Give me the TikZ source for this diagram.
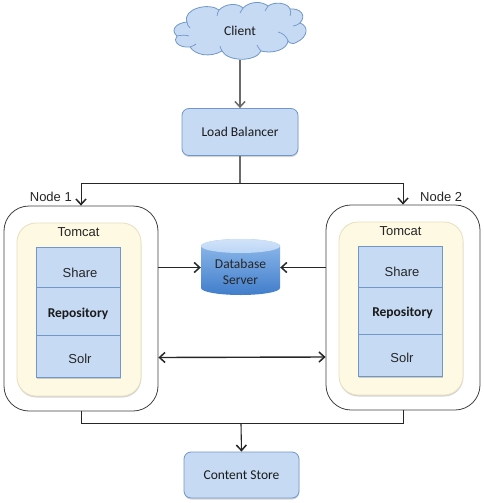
\documentclass[tikz,border=0pt]{standalone}
\usepackage{fontspec}
\setmainfont{Carlito}
\newfontfamily\arialish{Liberation Sans}
\usetikzlibrary{arrows.meta,shadows,calc}
\definecolor{boxblue}{HTML}{C6DAF3}
\definecolor{edgeblue}{HTML}{6F97C8}
\definecolor{creamfill}{HTML}{FEF9E3}
\definecolor{creamedge}{HTML}{E8DFC0}
\definecolor{inktext}{HTML}{1A1A1A}
\definecolor{greyline}{HTML}{6A6A6A}
\definecolor{dbtop}{HTML}{BCD6F6}
\definecolor{dbupper}{HTML}{92BCEC}
\definecolor{dblower}{HTML}{417DCB}
\tikzset{
  softshadow/.style={drop shadow={shadow xshift=0.3pt,shadow yshift=-1.5pt,opacity=0.28,fill=black!60}},
  roundbox/.style={draw=edgeblue,line width=0.8pt,fill=boxblue,rounded corners=7pt,softshadow,inner sep=0pt,text=inktext,font=\fontsize{13.5}{15}\selectfont},
  hostbox/.style={draw=black!75,line width=0.8pt,fill=white,rounded corners=25pt,inner sep=0pt},
  tomcatbox/.style={draw=creamedge,line width=0.8pt,fill=creamfill,rounded corners=19pt,inner sep=0pt,softshadow},
  tierbox/.style={draw=edgeblue,line width=0.8pt,fill=boxblue,inner sep=0pt,text=inktext,font=\fontsize{13.5}{15}\selectfont},
  tiersans/.style={tierbox,text=black!85,font=\arialish\fontsize{13}{15}\selectfont},
  sanslabel/.style={inner sep=0pt,text=black!85,font=\arialish\fontsize{13}{15}\selectfont},
  flow/.style={draw=black!85,line width=1.1pt,-{Straight Barb[length=5.5pt,width=10pt,line width=1.5pt]}},
  twoway/.style={draw=black!85,line width=1.4pt,{Straight Barb[length=5.5pt,width=10pt,line width=1.5pt]}-{Straight Barb[length=5.5pt,width=10pt,line width=1.5pt]}},
  plainline/.style={draw=black!85,line width=1pt},
}
\begin{document}
\begin{tikzpicture}[x=1pt,y=-1pt]
\useasboundingbox (0,0) rectangle (484,503);
% cloud
\draw[draw=edgeblue,line width=0.8pt,fill=boxblue]
 (177,36) .. controls (170,30) and (176,23) .. (187,22)
 .. controls (182,9) and (209,2) .. (219,10)
 .. controls (226,3) and (238,3) .. (243,8)
 .. controls (250,1) and (262,1) .. (268,6)
 .. controls (275,1) and (288,3) .. (290,9)
 .. controls (300,8) and (307,15) .. (300,23)
 .. controls (309,26) and (308,37) .. (297,42)
 .. controls (291,46) and (288,41) .. (288,41)
 .. controls (287,50) and (272,54) .. (261,51)
 .. controls (256,62) and (228,62) .. (222,51)
 .. controls (210,58) and (195,55) .. (190,47)
 .. controls (177,48) and (173,40) .. (177,36) -- cycle;
\draw[draw=edgeblue,line width=0.7pt]
 (177,36) .. controls (182,35) and (186,35) .. (189,36)
 (187,22) .. controls (187,24) and (188,26) .. (190,28)
 (219,10) .. controls (218,12) and (217,14) .. (217,16)
 (243,8) .. controls (242,10) and (241,11) .. (240,13)
 (268,6) .. controls (267,8) and (266,9) .. (265,11)
 (290,9) .. controls (291,12) and (291,14) .. (290,16)
 (300,23) .. controls (297,25) and (295,26) .. (293,26)
 (288,41) .. controls (287,37) and (283,33) .. (278,32)
 (261,51) .. controls (259,49) and (258,47) .. (257,45)
 (222,51) .. controls (221,49) and (220,47) .. (220,46)
 (190,47) .. controls (193,46) and (195,45) .. (196,44);
\node[inner sep=0pt,minimum width=132pt,minimum height=58pt,text=inktext,font=\fontsize{13.5}{15}\selectfont] (client) at (240,31) {Client};
% boxes
\node[roundbox,minimum width=116pt,minimum height=47pt] (lb) at (240,132) {Load Balancer};
\node[roundbox,minimum width=115pt,minimum height=46pt] (cs) at (241.5,475) {Content Store};
% hosts
\node[hostbox,minimum width=154pt,minimum height=205pt] (n1) at (81,308.5) {};
\node[hostbox,minimum width=154pt,minimum height=205pt] (n2) at (403,307.5) {};
\node[tomcatbox,minimum width=124pt,minimum height=173pt] (t1) at (79,309.5) {};
\node[tomcatbox,minimum width=124pt,minimum height=173pt] (t2) at (401,308.5) {};
\node[sanslabel] (tl1) at (78.5,232.5) {Tomcat};
\node[sanslabel] (tl2) at (400.5,231.5) {Tomcat};
\node[sanslabel,anchor=east] (nl1) at (72,196.5) {Node 1};
\node[sanslabel,anchor=west] (nl2) at (420,196.5) {Node 2};
% tiers
\fill[black!60,opacity=0.3] (37,249) rectangle (121,379);
\fill[black!60,opacity=0.3] (359,248) rectangle (443,378);
\node[tiersans,minimum width=84pt,minimum height=40pt,text height=20pt,text depth=0pt] (s1) at (78,267) {\hspace*{4pt}Share};
\node[tierbox,minimum width=84pt,minimum height=48pt,text height=12pt,text depth=0pt,font=\fontsize{13.5}{15}\selectfont\bfseries] (r1) at (78,311) {Repository};
\node[tiersans,minimum width=84pt,minimum height=42pt,text height=15pt,text depth=0pt] (o1) at (78,356) {\hspace*{4pt}Solr};
\node[tiersans,minimum width=84pt,minimum height=41pt,text height=20pt,text depth=0pt] (s2) at (400,266.5) {\hspace*{4pt}Share};
\node[tierbox,minimum width=84pt,minimum height=47pt,text height=12pt,text depth=0pt,font=\fontsize{13.5}{15}\selectfont\bfseries] (r2) at (400,310.5) {\hspace*{5pt}Repository};
\node[tiersans,minimum width=84pt,minimum height=42pt,text height=15pt,text depth=0pt] (o2) at (400,355) {\hspace*{4pt}Solr};
% database
\shade[top color=dbupper,bottom color=dblower]
 (201,246) -- (201,288) arc[start angle=180,end angle=360,x radius=39.5pt,y radius=7pt] -- (280,246) arc[start angle=0,end angle=180,x radius=39.5pt,y radius=7pt] -- cycle;
\shade[top color=dbtop!70!white,bottom color=dbtop] (240.5,246) ellipse[x radius=39.5pt,y radius=7pt];
\node[inner sep=0pt,minimum width=79pt,minimum height=46pt,align=center,text=black!85,font=\fontsize{13.5}{16}\selectfont] (db) at (240.5,272) {Database\\[0pt]Server};
% connectors
\coordinate (j1) at (240,183.5);
\coordinate (j2) at (241,423.5);
\draw[flow,draw=greyline] (client.south) -- (lb.north);
\draw[plainline,greyline,line width=1.1pt] (lb.south) -- (j1);
\draw[flow,line width=1pt] (j1) -| (n1.north);
\draw[flow,line width=1pt] (j1) -| (n2.north);
\draw[flow] (n1.east |- 0,267.5) -- ($(db.west)+(0,-4.5)$);
\draw[flow] (n2.west |- 0,267.5) -- ($(db.east)+(0,-4.5)$);
\draw[twoway] (n1.east |- 0,357.5) -- (n2.west |- 0,357);
\draw[plainline] (n1.south) |- (j2) -| (n2.south);
\draw[flow] (j2) -- (cs.north);
\end{tikzpicture}
\end{document}
